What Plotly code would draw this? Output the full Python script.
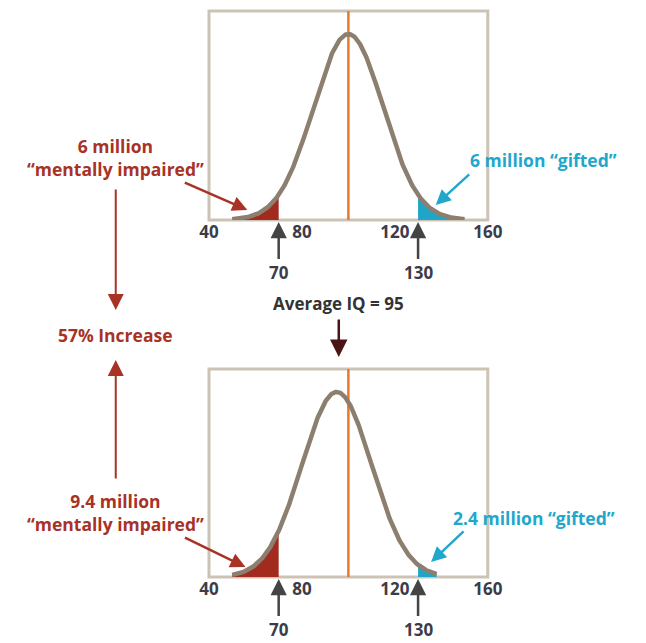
import numpy as np
import plotly.graph_objects as go

# ---- data ----
iq_ticks = [40, 80, 120, 160]
mean_before = 100
mean_after = 95
iq_sd = 15
impaired_cut = 70
gifted_cut = 130
curve_range_before = [50, 150]
curve_range_after = [50, 138]
reference_line = 100

labels_before = ["6 million<br>“mentally impaired”", "6 million “gifted”"]
labels_after = ["9.4 million<br>“mentally impaired”", "2.4 million “gifted”"]
middle_label = "Average IQ = 95"
increase_label = "57% Increase"

W, H = 646, 643
FONT = "Open Sans"
RED = "#a83226"
REDFILL = "#a32a1f"
BLUE = "#22a7cc"
BLUEFILL = "#1ea5c8"
CURVE = "#8c7f70"
BOX = "#cdc3b5"
ORANGE = "#e8782a"
DARK = "#3c3c48"


def pdf(x, m, s):
    return np.exp(-0.5 * ((x - m) / s) ** 2)


fig = go.Figure()

panels = [
    (mean_before, curve_range_before, "x", "y"),
    (mean_after, curve_range_after, "x2", "y2"),
]
for m, rng, xa, ya in panels:
    xs = np.linspace(rng[0], rng[1], 400)
    xl = np.linspace(rng[0], impaired_cut, 120)
    xr = np.linspace(gifted_cut, rng[1], 120)
    fig.add_trace(go.Scatter(x=xl, y=pdf(xl, m, iq_sd), fill="tozeroy", mode="none",
                             fillcolor=REDFILL, xaxis=xa, yaxis=ya, hoverinfo="skip"))
    fig.add_trace(go.Scatter(x=xr, y=pdf(xr, m, iq_sd), fill="tozeroy", mode="none",
                             fillcolor=BLUEFILL, xaxis=xa, yaxis=ya, hoverinfo="skip"))
    fig.add_trace(go.Scatter(x=xs, y=pdf(xs, m, iq_sd), mode="lines",
                             line=dict(color=CURVE, width=4.5), xaxis=xa, yaxis=ya,
                             hoverinfo="skip"))

ymax = 1.124
xdom = [207 / W, 497 / W]
axis_common = dict(range=[40, 160], showgrid=False, zeroline=False, ticks="",
                   tickvals=iq_ticks, ticktext=[f"<b>{t}</b>" for t in iq_ticks],
                   tickfont=dict(family=FONT, size=17, color=DARK), showline=False,
                   fixedrange=True)
fig.update_layout(
    width=W, height=H, margin=dict(l=0, r=0, t=0, b=0),
    paper_bgcolor="white", plot_bgcolor="white", showlegend=False,
    xaxis=dict(domain=xdom, anchor="y", **axis_common),
    xaxis2=dict(domain=xdom, anchor="y2", **axis_common),
    yaxis=dict(domain=[1 - 220 / H, 1 - 11 / H], range=[0, ymax], visible=False,
               fixedrange=True),
    yaxis2=dict(domain=[1 - 577 / H, 1 - 369 / H], range=[0, ymax], visible=False,
                fixedrange=True),
)

shapes = []
for xa, ya in [("x", "y"), ("x2", "y2")]:
    shapes.append(dict(type="rect", xref=f"{xa} domain", yref=f"{ya} domain",
                       x0=0, x1=1, y0=0, y1=1, line=dict(color=BOX, width=3),
                       layer="below"))
    shapes.append(dict(type="line", xref=xa, yref=f"{ya} domain",
                       x0=reference_line, x1=reference_line, y0=0, y1=1,
                       line=dict(color=ORANGE, width=2.5), layer="below"))
fig.update_layout(shapes=shapes)

ann = []
# arrows at 70 and 130
for xa, ya in [("x", "y"), ("x2", "y2")]:
    for v in [impaired_cut, gifted_cut]:
        ann.append(dict(x=v, y=0, xref=xa, yref=ya, text=f"<b>{v}</b>",
                        showarrow=True, ax=0, ay=52, arrowhead=2, arrowsize=1.3,
                        arrowwidth=2.5, arrowcolor="#444444", standoff=2,
                        font=dict(family=FONT, size=17, color=DARK)))

LBL = 17.5


def label(x, y, text, color, size=LBL, weight=None):
    f = dict(family=FONT, size=size, color=color)
    if weight:
        f["weight"] = weight
    return dict(x=x / W, y=1 - y / H, xref="paper", yref="paper", text=text,
                showarrow=False, xanchor="center", yanchor="middle",
                align="center", font=f)


ann.append(label(110, 158, f"<b>{labels_before[0]}</b>", RED))
ann.append(label(110, 512, f"<b>{labels_after[0]}</b>", RED))
ann.append(label(555, 160, f"<b>{labels_before[1]}</b>", BLUE))
ann.append(label(545, 518, f"<b>{labels_after[1]}</b>", BLUE))
ann.append(label(110, 335, f"<b>{increase_label}</b>", RED))
ann.append(label(342, 303, f"<b>{middle_label}</b>", "#333333", size=17))

# pointer arrows to tails
ann.append(dict(x=56.5, y=0.054, xref="x", yref="y", text="", showarrow=True,
                ax=-64, ay=-28, arrowhead=2, arrowsize=1.2, arrowwidth=2.5, arrowcolor=RED))
ann.append(dict(x=137.6, y=0.081, xref="x", yref="y", text="", showarrow=True,
                ax=35, ay=-32, arrowhead=2, arrowsize=1.2, arrowwidth=2.5, arrowcolor=BLUE))
ann.append(dict(x=55.7, y=0.054, xref="x2", yref="y2", text="", showarrow=True,
                ax=-62, ay=-30, arrowhead=2, arrowsize=1.2, arrowwidth=2.5, arrowcolor=RED))
ann.append(dict(x=135.6, y=0.081, xref="x2", yref="y2", text="", showarrow=True,
                ax=34, ay=-32, arrowhead=2, arrowsize=1.2, arrowwidth=2.5, arrowcolor=BLUE))

# vertical arrows
ann.append(dict(x=110 / W, y=1 - 310 / H, xref="paper", yref="paper", text="",
                showarrow=True, ax=0, ay=-122, arrowhead=2, arrowsize=1.6,
                arrowwidth=2, arrowcolor=RED))
ann.append(dict(x=110 / W, y=1 - 360 / H, xref="paper", yref="paper", text="",
                showarrow=True, ax=0, ay=120, arrowhead=2, arrowsize=1.6,
                arrowwidth=2, arrowcolor=RED))
ann.append(dict(x=342 / W, y=1 - 357 / H, xref="paper", yref="paper", text="",
                showarrow=True, ax=0, ay=-39, arrowhead=2, arrowsize=1.4,
                arrowwidth=2.5, arrowcolor="#4a1515"))

fig.update_layout(annotations=ann)
fig.write_html("out.html", config={"displayModeBar": False},
               post_script="document.body.style.margin='0';document.body.style.overflow='hidden';")
